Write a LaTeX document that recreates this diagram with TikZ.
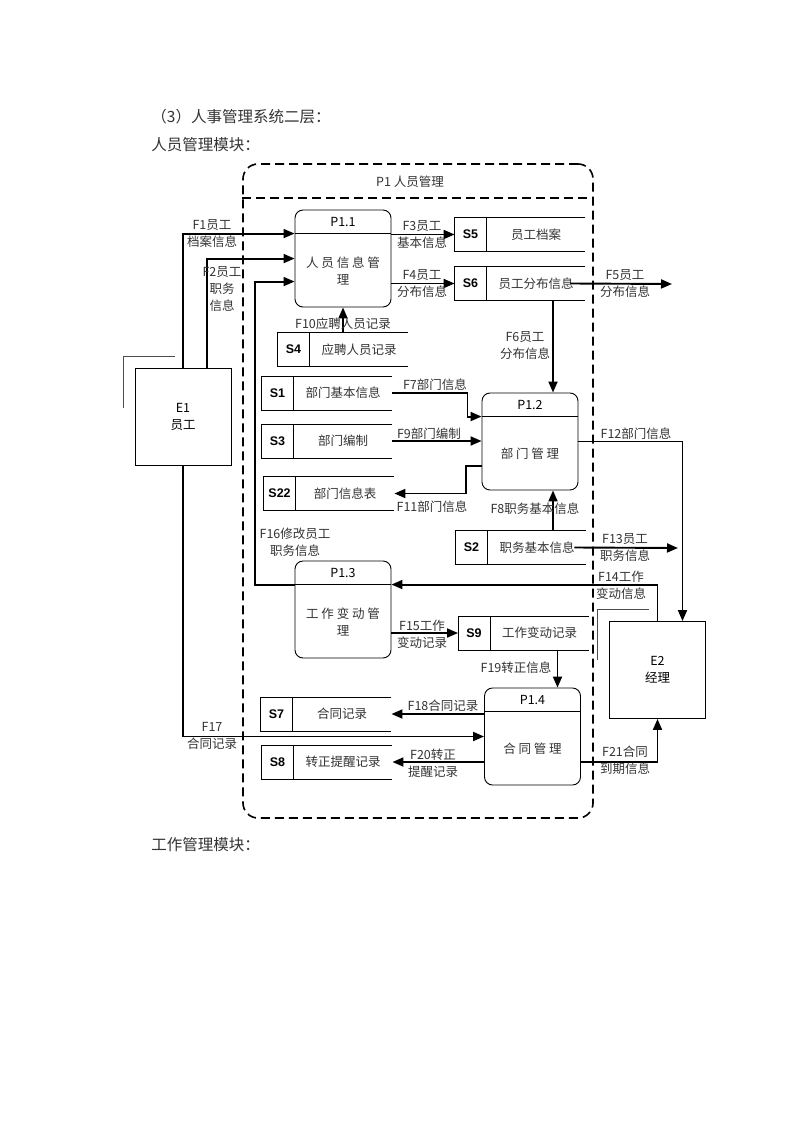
\documentclass[tikz,border=0pt]{standalone}
\usepackage{fontspec}
\setmainfont{Noto Sans CJK SC}
\newfontfamily\idfont{Liberation Sans}
\usetikzlibrary{arrows.meta}

\begin{document}
\begin{tikzpicture}[x=1pt,y=-1pt,line width=0.9pt,
    every node/.style={text=black!80,font=\fontsize{12.5}{17}\selectfont,inner sep=1pt},
    proc/.style={draw,rounded corners=8pt,minimum width=96pt,minimum height=97pt,inner sep=0pt},
    ent/.style={draw,text=black,minimum width=96pt,minimum height=97pt,align=center},
    store/.style={minimum width=130pt,minimum height=33pt,inner sep=0pt},
    sid/.style={font=\idfont\bfseries\fontsize{12.5}{14}\selectfont,text=black},
    lbl/.style={align=center},
    flow/.style={line width=1.9pt,-{Triangle[length=11pt,width=9pt]}},
    frame/.style={line width=1.6pt,dash pattern=on 9pt off 5pt}]
    \useasboundingbox (0,0) rectangle (800,1132);

    % headings
    \node[anchor=west,font=\fontsize{15.5}{18}\selectfont] (head) at (150,117) {（3）人事管理系统二层：};
    \node[anchor=west,font=\fontsize{15.5}{18}\selectfont] (sub1) at (150,145) {人员管理模块：};
    \node[anchor=west,font=\fontsize{15.5}{18}\selectfont] (sub2) at (150,845) {工作管理模块：};

    % P1 frame
    \node[frame,draw,rounded corners=15pt,minimum width=350pt,minimum height=654pt] (p1) at (418,491) {};
    \draw[frame] ([yshift=-35pt]p1.north west) -- ([yshift=-35pt]p1.north east);
    \node (p1t) at (410,182) {P1 人员管理};

    % processes
    \node[proc] (p11) at (343,258.5) {};
    \node[proc] (p12) at (530,441.5) {};
    \node[proc] (p13) at (343,609.5) {};
    \node[proc] (p14) at (532.5,736.5) {};
    \foreach \p/\t in {p11/P1.1,p12/P1.2,p13/P1.3,p14/P1.4}{
        \node[text=black] at ([yshift=-12pt]\p.north) {\t};
        \draw ([yshift=-24pt]\p.north west) -- ([yshift=-24pt]\p.north east);
    }
    \node[align=center] (p11b) at ([yshift=-12pt]p11.center) {人 员 信 息 管\\理};
    \node[align=center] (p12b) at ([yshift=-12pt]p12.center) {部 门 管 理};
    \node[align=center] (p13b) at ([yshift=-12pt]p13.center) {工 作 变 动 管\\理};
    \node[align=center] (p14b) at ([yshift=-12pt]p14.center) {合 同 管 理};

    % external entities
    \node[ent] (e1) at (183,417) {E1\\员工};
    \node[ent] (e2) at (657.5,670) {E2\\经理};
    \draw[black!70] (175,356) -- (123,356) -- (123,408);
    \draw[black!70] (649,609) -- (597,609) -- (597,660);

    % data stores
    \node[store] (s5) at (520,234.5) {};
    \node[store] (s6) at (520,283.5) {};
    \node[store] (s4) at (343,349.5) {};
    \node[store] (s1) at (327,393) {};
    \node[store] (s3) at (327,441) {};
    \node[store] (s22) at (329,493.5) {};
    \node[store] (s2) at (521,547.5) {};
    \node[store] (s9) at (523.5,633) {};
    \node[store] (s7) at (326,714) {};
    \node[store] (s8) at (327,762) {};
    \foreach \s/\i/\t in {s5/S5/员工档案,s6/S6/员工分布信息,s4/S4/应聘人员记录,
        s1/S1/部门基本信息,s3/S3/部门编制,s22/S22/部门信息表,s2/S2/职务基本信息,
        s9/S9/工作变动记录,s7/S7/合同记录,s8/S8/转正提醒记录}{
        \draw (\s.north east) -- (\s.north west) -- (\s.south west) -- (\s.south east);
        \draw ([xshift=32pt]\s.north west) -- ([xshift=32pt]\s.south west);
        \node[sid] at ([xshift=16pt]\s.west) {\i};
        \node at ([xshift=16pt]\s.center) {\t};
    }

    % data flows
    \coordinate (f5end) at (672,284);
    \coordinate (f13end) at (678,548);
    \draw[flow] (e1.north) |- ([yshift=-24pt]p11.north west);
    \draw[flow] ([xshift=24pt]e1.north) |- ([yshift=-49pt]p11.north west);
    \draw[flow] ([yshift=-24pt]p13.north west) -- ++(-40,0) |- ([yshift=-72pt]p11.north west);
    \draw[flow] (p11.east |- s5.west) -- (s5.west);
    \draw[flow] (p11.east |- s6.west) -- (s6.west);
    \draw[flow] ([xshift=-15pt]s6.east) -- (f5end);
    \draw[flow] ([xshift=23pt]p12.north |- s6.south) -- ([xshift=23pt]p12.north);
    \draw[flow] (s4.north) -- (p11.south);
    \draw[flow] (s1.east) -- ++(75,0) |- ([yshift=-24pt]p12.north west);
    \draw[flow] (s3.east) -- (s3.east -| p12.west);
    \draw[flow] ([yshift=-24.5pt]p12.west) -- ++(-16,0) |- (s22.east);
    \draw[flow] ([xshift=23pt]p12.south |- s2.north) -- ([xshift=23pt]p12.south);
    \draw[flow] ([xshift=-12pt]s2.east) -- (f13end);
    \draw[flow] (p12.east) -| ([xshift=25pt]e2.north);
    \draw[flow] (e2.north) |- ([yshift=-24pt]p13.north east);
    \draw[flow] (p13.east |- s9.west) -- (s9.west);
    \draw[flow] ([xshift=25pt]p14.north |- s9.south) -- ([xshift=25pt]p14.north);
    \draw[flow] (e1.south) |- (p14.west);
    \draw[flow] (p14.west |- s7.east) -- (s7.east);
    \draw[flow] (p14.west |- s8.east) -- (s8.east);
    \draw[flow] (p14.east |- s8.east) -| (e2.south);

    % flow labels
    \node[lbl] (f1) at (212,234) {F1员工\\档案信息};
    \node[lbl] (f2) at (222,289) {F2员工\\职务\\信息};
    \node[lbl] (f3) at (422,235) {F3员工\\基本信息};
    \node[lbl] (f4) at (422,284) {F4员工\\分布信息};
    \node[lbl] (f5) at (625,284) {F5员工\\分布信息};
    \node[lbl] (f6) at (525,346) {F6员工\\分布信息};
    \node[lbl] (f10) at (343,324) {F10应聘人员记录};
    \node[lbl] (f7) at (435,385) {F7部门信息};
    \node[lbl] (f9) at (429,434) {F9部门编制};
    \node[lbl] (f11) at (432,507) {F11部门信息};
    \node[lbl] (f8) at (535,509) {F8职务基本信息};
    \node[lbl] (f12) at (636,434) {F12部门信息};
    \node[lbl] (f13) at (625,548) {F13员工\\职务信息};
    \node[lbl] (f14) at (621,585) {F14工作\\变动信息};
    \node[lbl] (f16) at (295,542) {F16修改员工\\职务信息};
    \node[lbl] (f15) at (422,634) {F15工作\\变动记录};
    \node[lbl] (f19) at (516,668) {F19转正信息};
    \node[lbl] (f17) at (212,736) {F17\\合同记录};
    \node[lbl] (f18) at (443,706) {F18合同记录};
    \node[lbl] (f20) at (433,763) {F20转正\\提醒记录};
    \node[lbl] (f21) at (625,760) {F21合同\\到期信息};
\end{tikzpicture}
\end{document}
